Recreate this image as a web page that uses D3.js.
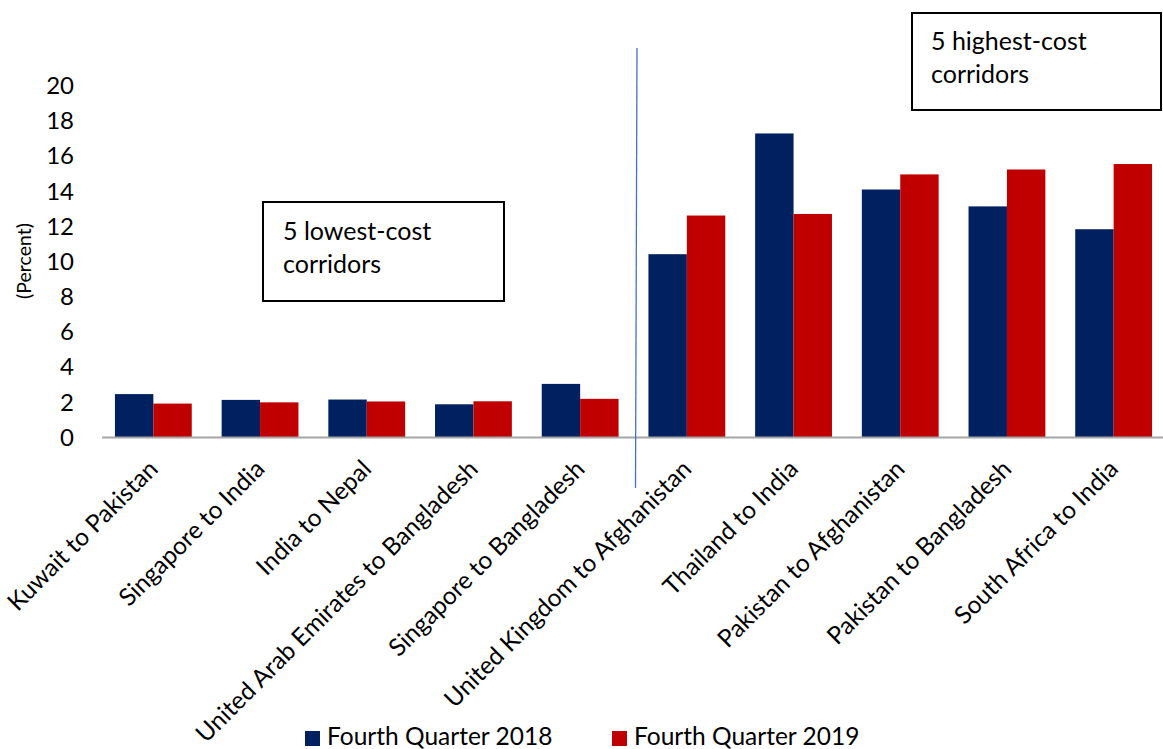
<!DOCTYPE html>
<html>
<head>
<meta charset="utf-8">
<script src="https://cdn.jsdelivr.net/npm/d3@7"></script>
<style>
  html, body { margin: 0; padding: 0; background: #fff; }
  svg { display: block; font-family: Lato, "Open Sans", sans-serif; }
</style>
</head>
<body>
<svg id="chart" width="1163" height="749"></svg>
<script>
// ---- data ----
const categories = [
  "Kuwait to Pakistan",
  "Singapore to India",
  "India to Nepal",
  "United Arab Emirates to Bangladesh",
  "Singapore to Bangladesh",
  "United Kingdom to Afghanistan",
  "Thailand to India",
  "Pakistan to Afghanistan",
  "Pakistan to Bangladesh",
  "South Africa to India"
];
const seriesNames = ["Fourth Quarter 2018", "Fourth Quarter 2019"];
const q4_2018 = [2.47, 2.14, 2.16, 1.89, 3.05, 10.43, 17.30, 14.11, 13.15, 11.85];
const q4_2019 = [1.93, 2.00, 2.05, 2.06, 2.20, 12.63, 12.72, 14.97, 15.25, 15.56];
const yTicks = [0, 2, 4, 6, 8, 10, 12, 14, 16, 18, 20];
const seriesColors = ["#002060", "#C00000"];
const boxTexts = [["5 lowest-cost", "corridors"], ["5 highest-cost", "corridors"]];

// ---- layout ----
const svg = d3.select("#chart");
const y = d3.scaleLinear().domain([0, 20]).range([437.5, 86]);
const x = d3.scaleBand().domain(categories).range([100, 1167]).paddingInner(0.28).paddingOuter(0.14);
const x1 = d3.scaleBand().domain(seriesNames).range([0, x.bandwidth()]);

const series = [q4_2018, q4_2019];

// y axis labels
const yAxis = d3.axisLeft(y).tickValues(yTicks).tickSize(0).tickPadding(0);
const gy = svg.append("g").attr("transform", "translate(74,0)").call(yAxis);
gy.select(".domain").remove();
gy.selectAll("text").attr("font-size", 24).attr("fill", "#000").attr("font-family", "Lato, sans-serif");

// y title
svg.append("text")
  .attr("transform", "translate(31,261) rotate(-90)")
  .attr("text-anchor", "middle")
  .attr("font-size", 19.5)
  .attr("fill", "#000")
  .text("(Percent)");

// bars
categories.forEach((c, i) => {
  series.forEach((s, j) => {
    svg.append("rect")
      .attr("x", x(c) + x1(seriesNames[j]))
      .attr("y", y(s[i]))
      .attr("width", x1.bandwidth())
      .attr("height", y(0) - y(s[i]))
      .attr("fill", seriesColors[j]);
  });
});

// x axis line
svg.append("line")
  .attr("x1", 102).attr("x2", 1163)
  .attr("y1", y(0)).attr("y2", y(0))
  .attr("stroke", "#A6A6A6").attr("stroke-width", 2);

// x labels
const xAxis = d3.axisBottom(x).tickSize(0).tickPadding(0);
const gx = svg.append("g").attr("transform", `translate(0,${y(0)})`).call(xAxis);
gx.select(".domain").remove();
gx.selectAll("text")
  .attr("font-size", 24.5)
  .attr("fill", "#000")
  .attr("font-family", "Lato, sans-serif")
  .attr("text-anchor", "end")
  .attr("dy", null)
  .attr("y", 0)
  .attr("transform", "translate(6,33) rotate(-45)");

// divider line
svg.append("line")
  .attr("x1", 637).attr("y1", 48).attr("x2", 635.5).attr("y2", 488)
  .attr("stroke", "#4472C4").attr("stroke-width", 1.3);

// annotation boxes
const boxes = [
  { x: 263, y: 202, w: 241, h: 99, tx: 283, ty: 240 },
  { x: 912, y: 13, w: 249, h: 97, tx: 931, ty: 50 }
];
boxes.forEach((b, i) => {
  svg.append("rect").attr("x", b.x).attr("y", b.y).attr("width", b.w).attr("height", b.h)
    .attr("fill", "#fff").attr("stroke", "#000").attr("stroke-width", 2);
  const t = svg.append("text").attr("x", b.tx).attr("y", b.ty).attr("font-size", 25).attr("fill", "#000");
  boxTexts[i].forEach((line, k) => {
    t.append("tspan").attr("x", b.tx).attr("dy", k === 0 ? 0 : 33).text(line);
  });
});

// legend
const legendX = [305, 612];
seriesNames.forEach((n, j) => {
  svg.append("rect").attr("x", legendX[j]).attr("y", 731).attr("width", 15).attr("height", 15).attr("fill", seriesColors[j]);
  svg.append("text").attr("x", legendX[j] + 22).attr("y", 745).attr("font-size", 24.5).attr("fill", "#000").text(n);
});
</script>
</body>
</html>
